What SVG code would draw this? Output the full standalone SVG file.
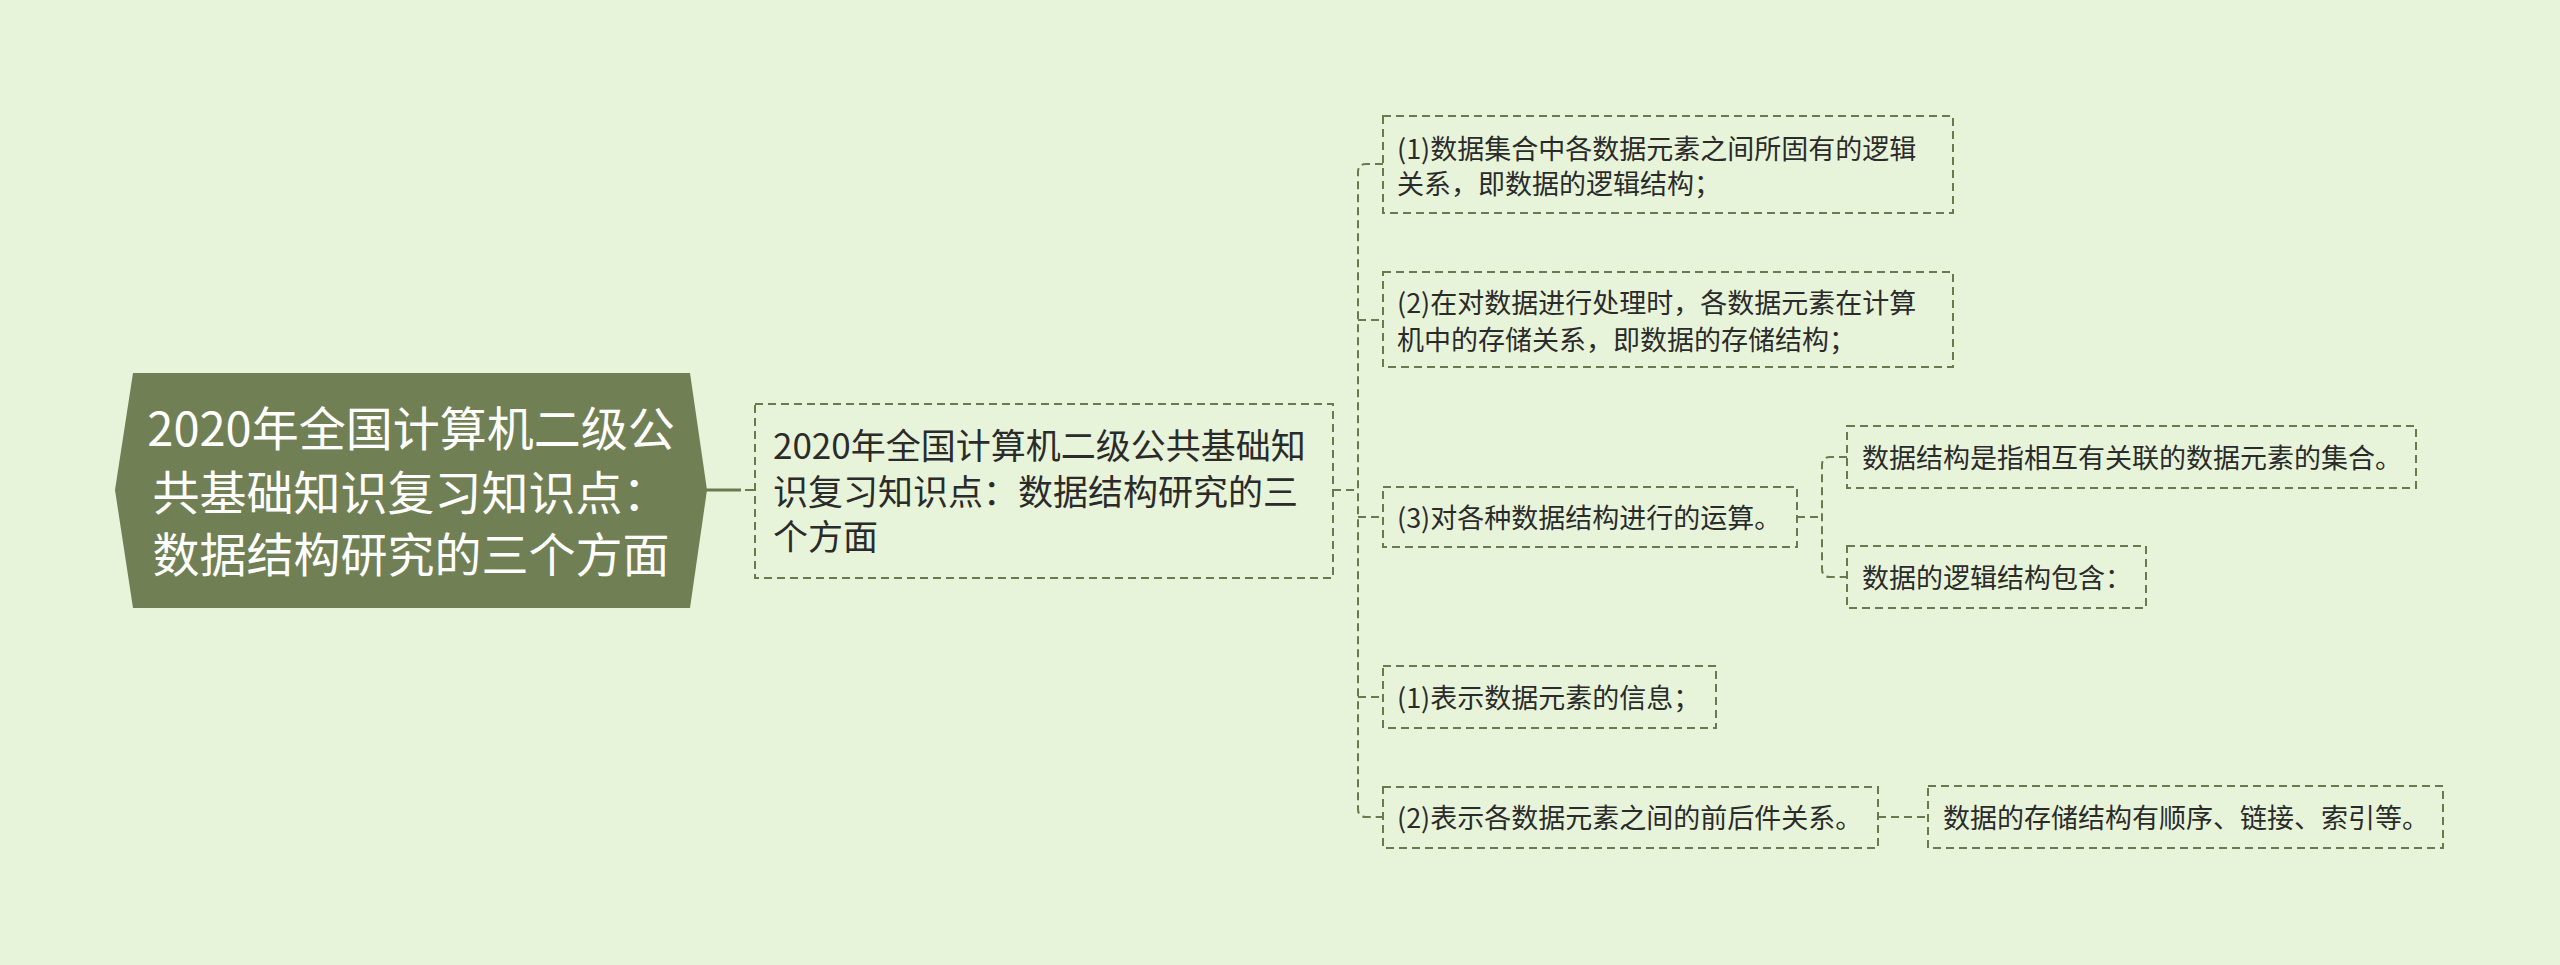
<svg xmlns="http://www.w3.org/2000/svg" width="2560" height="965" viewBox="0 0 2560 965">
<style>
.bg{fill:#e8f4da}
.box{fill:none;stroke:#6b7a4e;stroke-width:2;stroke-dasharray:8 5}
.con{fill:none;stroke:#6b7a4e;stroke-width:2;stroke-dasharray:8 5}
.t{font-family:"Noto Sans CJK SC","Noto Sans",sans-serif;fill:#2b2b2b}
.t1{font-size:35px}
.t2{font-size:27px}
.rt{font-family:"Noto Sans CJK SC","Noto Sans",sans-serif;font-size:47px;fill:#ffffff;text-anchor:middle}
</style>
<rect class="bg" x="0" y="0" width="2560" height="965"/>
<g id="connectors">
<line x1="706" y1="490" x2="741" y2="490" stroke="#6b7a4e" stroke-width="3"/>
<line x1="745" y1="490" x2="754" y2="490" stroke="#6b7a4e" stroke-width="2"/>
<line class="con" x1="1333" y1="490" x2="1358" y2="490"/>
<path class="con" d="M1383,164 H1366 Q1358,164 1358,172 V809 Q1358,817 1366,817 H1383"/>
<line class="con" x1="1358" y1="320" x2="1383" y2="320"/>
<line class="con" x1="1358" y1="517" x2="1383" y2="517"/>
<line class="con" x1="1358" y1="697" x2="1383" y2="697"/>
<line class="con" x1="1797" y1="517" x2="1822" y2="517"/>
<path class="con" d="M1847,457 H1830 Q1822,457 1822,465 V569 Q1822,577 1830,577 H1847"/>
<line class="con" x1="1878" y1="817" x2="1928" y2="817"/>
</g>
<g id="root">
<polygon points="115,490 133,373 690,373 707,490 690,608 133,608" fill="#717f55"/>
<text class="rt" x="411" y="446">2020年全国计算机二级公</text>
<text class="rt" x="411" y="510">共基础知识复习知识点：</text>
<text class="rt" x="411" y="572">数据结构研究的三个方面</text>
</g>
<g id="n-main">
<rect class="box" x="755" y="404" width="578" height="174"/>
<text class="t t1" x="773" y="459">2020年全国计算机二级公共基础知</text>
<text class="t t1" x="773" y="505">识复习知识点：数据结构研究的三</text>
<text class="t t1" x="773" y="550">个方面</text>
</g>
<g id="n-a1">
<rect class="box" x="1383" y="116" width="570" height="97"/>
<text class="t t2" x="1397" y="159">(1)数据集合中各数据元素之间所固有的逻辑</text>
<text class="t t2" x="1397" y="194">关系，即数据的逻辑结构；</text>
</g>
<g id="n-a2">
<rect class="box" x="1383" y="272" width="570" height="95"/>
<text class="t t2" x="1397" y="313">(2)在对数据进行处理时，各数据元素在计算</text>
<text class="t t2" x="1397" y="350">机中的存储关系，即数据的存储结构；</text>
</g>
<g id="n-a3">
<rect class="box" x="1383" y="487" width="414" height="60"/>
<text class="t t2" x="1397" y="528">(3)对各种数据结构进行的运算。</text>
</g>
<g id="n-b1">
<rect class="box" x="1847" y="426" width="569" height="62"/>
<text class="t t2" x="1862" y="468">数据结构是指相互有关联的数据元素的集合。</text>
</g>
<g id="n-b2">
<rect class="box" x="1847" y="546" width="299" height="62"/>
<text class="t t2" x="1862" y="588">数据的逻辑结构包含：</text>
</g>
<g id="n-a4">
<rect class="box" x="1383" y="666" width="333" height="62"/>
<text class="t t2" x="1397" y="708">(1)表示数据元素的信息；</text>
</g>
<g id="n-a5">
<rect class="box" x="1383" y="787" width="495" height="61"/>
<text class="t t2" x="1397" y="828">(2)表示各数据元素之间的前后件关系。</text>
</g>
<g id="n-c1">
<rect class="box" x="1928" y="786" width="515" height="62"/>
<text class="t t2" x="1943" y="828">数据的存储结构有顺序、链接、索引等。</text>
</g>
</svg>
